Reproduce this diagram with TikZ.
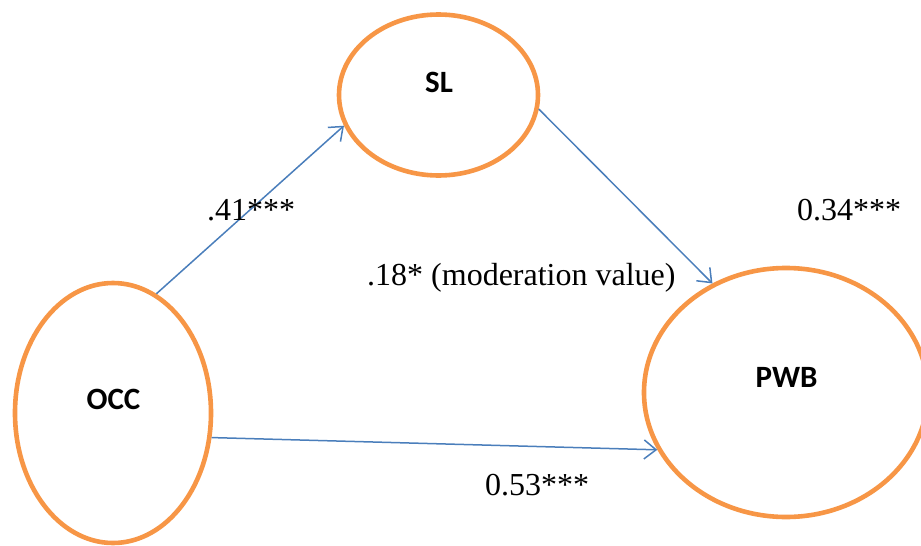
\documentclass[tikz,border=0pt]{standalone}
\usepackage{fontspec}
\setmainfont{Liberation Serif}
\newfontfamily\lblfont{Carlito}
\usetikzlibrary{shapes.geometric,arrows.meta}
\definecolor{ringorange}{HTML}{F79646}
\definecolor{linkblue}{HTML}{4A7EBB}
\begin{document}
\begin{tikzpicture}[x=1pt,y=-1pt,
  ring/.style={ellipse,draw=ringorange,line width=4.6pt,inner sep=0pt,fill=white},
  lbl/.style={font=\lblfont\bfseries\fontsize{31}{36}\selectfont,anchor=base,inner sep=0pt},
  coef/.style={font=\fontsize{32}{38}\selectfont,anchor=base west,inner sep=0pt},
  link/.style={draw=linkblue,line width=1.5pt,-{Straight Barb[length=12pt,width=19pt,line width=1.5pt]}}]
\useasboundingbox (0,0) rectangle (921,546);
\node[ring,minimum width=196pt,minimum height=260pt] (occ) at (113,413) {};
\node[ring,minimum width=199pt,minimum height=161pt] (sl) at (438.5,95) {};
\node[ring,minimum width=284pt,minimum height=249pt] (pwb) at (786,392.5) {};
\node[lbl] (occt) at (113.5,409) {OCC};
\node[lbl] (slt) at (439,92) {SL};
\node[lbl] (pwbt) at (786.5,387) {PWB};
\draw[link] (occ.70.9) -- (sl.198.9);
\draw[link] (sl.352.6) -- (pwb.124.2);
\draw[link] (occ.346.2) -- (pwb.204.8);
\node[coef] (c1) at (207,220) {.41***};
\node[coef] (c2) at (797,220) {0.34***};
\node[coef] (c3) at (367,285) {.18* (moderation value)};
\node[coef] (c4) at (485,495) {0.53***};
\end{tikzpicture}
\end{document}
